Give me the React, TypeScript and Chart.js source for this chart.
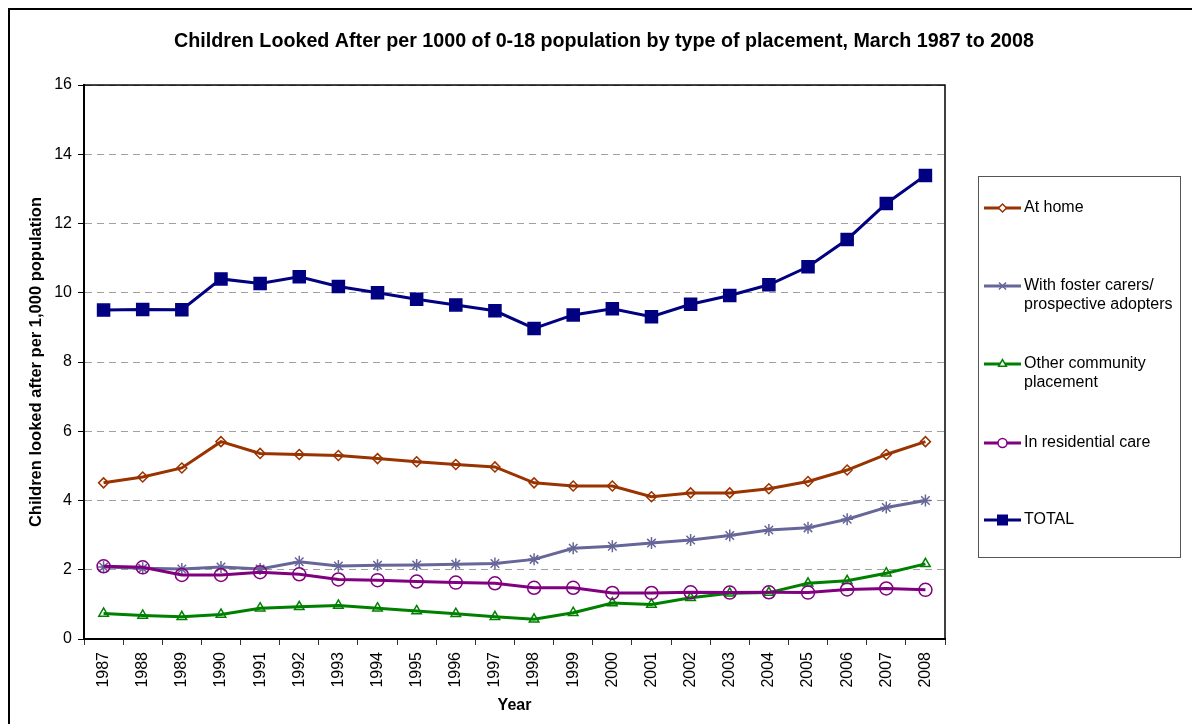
import React, { useEffect, useRef } from "react";
import { Chart, registerables } from "chart.js";

Chart.register(...registerables);

const years = ["1987","1988","1989","1990","1991","1992","1993","1994","1995","1996","1997","1998","1999","2000","2001","2002","2003","2004","2005","2006","2007","2008"];
const atHome = [4.51,4.68,4.94,5.70,5.36,5.33,5.30,5.21,5.12,5.04,4.97,4.51,4.42,4.42,4.11,4.22,4.22,4.34,4.55,4.88,5.33,5.70];
const foster = [2.08,2.04,2.02,2.08,2.02,2.23,2.11,2.13,2.14,2.16,2.18,2.30,2.62,2.68,2.77,2.86,2.99,3.15,3.21,3.46,3.80,4.00];
const otherCommunity = [0.74,0.68,0.64,0.71,0.89,0.93,0.97,0.89,0.81,0.73,0.64,0.57,0.76,1.04,1.00,1.19,1.32,1.34,1.61,1.68,1.90,2.17];
const residential = [2.10,2.07,1.85,1.85,1.93,1.87,1.72,1.70,1.66,1.63,1.61,1.48,1.48,1.33,1.33,1.35,1.34,1.35,1.34,1.43,1.46,1.42];
const total = [9.50,9.52,9.51,10.40,10.27,10.46,10.18,10.00,9.81,9.65,9.48,8.97,9.36,9.54,9.31,9.67,9.92,10.23,10.75,11.54,12.58,13.39];
const yTicks = [0, 2, 4, 6, 8, 10, 12, 14, 16];

const seriesNames = [["At home"], ["With foster carers/", "prospective adopters"], ["Other community", "placement"], ["In residential care"], ["TOTAL"]];
const seriesColors = ["#993300", "#666699", "#008000", "#800080", "#000080"];

const FONT = "'Liberation Sans', Arial, sans-serif";

function drawMarker(ctx: CanvasRenderingContext2D, style: string, x: number, y: number, r: number, color: string) {
  ctx.save();
  ctx.strokeStyle = color;
  ctx.fillStyle = color;
  ctx.lineWidth = 1.5;
  ctx.beginPath();
  if (style === "rectRot") {
    ctx.moveTo(x, y - r); ctx.lineTo(x + r, y); ctx.lineTo(x, y + r); ctx.lineTo(x - r, y); ctx.closePath();
    ctx.fillStyle = "#fff"; ctx.fill(); ctx.stroke();
  } else if (style === "star") {
    ctx.moveTo(x - r, y); ctx.lineTo(x + r, y);
    const d = r * 0.7071;
    ctx.moveTo(x - d, y - d); ctx.lineTo(x + d, y + d);
    ctx.moveTo(x - d, y + d); ctx.lineTo(x + d, y - d);
    ctx.stroke();
  } else if (style === "triangle") {
    ctx.moveTo(x, y - r); ctx.lineTo(x + r * 0.866, y + r * 0.5); ctx.lineTo(x - r * 0.866, y + r * 0.5); ctx.closePath();
    ctx.fillStyle = "#fff"; ctx.fill(); ctx.stroke();
  } else if (style === "circle") {
    ctx.arc(x, y, r, 0, Math.PI * 2);
    ctx.fillStyle = "#fff"; ctx.fill(); ctx.stroke();
  } else {
    ctx.rect(x - r, y - r, 2 * r, 2 * r);
    ctx.fill();
  }
  ctx.restore();
}

const legendStyles = ["rectRot", "star", "triangle", "circle", "rect"];
const legendSizes = [4, 5, 4.5, 4.5, 5.5];

const framePlugin = {
  id: "framePlugin",
  beforeDraw(chart: any) {
    const ctx = chart.ctx;
    ctx.save();
    ctx.fillStyle = "#fff";
    ctx.fillRect(0, 0, chart.width, chart.height);
    ctx.strokeStyle = "#000";
    ctx.lineWidth = 2;
    ctx.strokeRect(9, 9, 3000, 3000);
    ctx.restore();
  },
  beforeDatasetsDraw(chart: any) {
    const { ctx, chartArea } = chart;
    ctx.save();
    ctx.strokeStyle = "#000";
    ctx.lineWidth = 1.5;
    ctx.strokeRect(chartArea.left, chartArea.top, chartArea.right - chartArea.left, chartArea.bottom - chartArea.top);
    ctx.restore();
  },
  afterDraw(chart: any) {
    const ctx = chart.ctx;
    ctx.save();
    ctx.strokeStyle = "#555";
    ctx.lineWidth = 1;
    ctx.strokeRect(978.5, 176.5, 202, 381);
    const rowY = [208, 286, 364, 443, 520];
    ctx.font = `16px ${FONT}`;
    ctx.textBaseline = "middle";
    ctx.textAlign = "left";
    seriesNames.forEach((lines, i) => {
      const y = rowY[i];
      ctx.strokeStyle = seriesColors[i];
      ctx.lineWidth = 3;
      ctx.beginPath();
      ctx.moveTo(984, y);
      ctx.lineTo(1021, y);
      ctx.stroke();
      drawMarker(ctx, legendStyles[i], 1002.5, y, legendSizes[i], seriesColors[i]);
      ctx.fillStyle = "#000";
      lines.forEach((t, j) => ctx.fillText(t, 1024, y + j * 18.5));
    });
    ctx.restore();
  },
};

export default function App() {
  const canvasRef = useRef<HTMLCanvasElement | null>(null);

  useEffect(() => {
    if (!canvasRef.current) return;
    const common = { borderWidth: 3, pointBorderWidth: 1.5, tension: 0 };
    const chart = new Chart(canvasRef.current, {
      type: "line",
      data: {
        labels: years,
        datasets: [
          { ...common, label: "TOTAL", data: total, borderColor: seriesColors[4], backgroundColor: seriesColors[4], pointStyle: "rect", pointRadius: 8.5, pointBackgroundColor: seriesColors[4], pointBorderColor: seriesColors[4], order: 0 },
          { ...common, label: "In residential care", data: residential, borderColor: seriesColors[3], pointStyle: "circle", pointRadius: 6.5, pointBackgroundColor: "rgba(0,0,0,0)", pointBorderColor: seriesColors[3], order: 1 },
          { ...common, label: "With foster carers/prospective adopters", data: foster, borderColor: seriesColors[1], pointStyle: "star", pointRadius: 6, pointBackgroundColor: seriesColors[1], pointBorderColor: seriesColors[1], order: 2 },
          { ...common, label: "Other community placement", data: otherCommunity, borderColor: seriesColors[2], pointStyle: "triangle", pointRadius: 5.5, pointBackgroundColor: "rgba(0,0,0,0)", pointBorderColor: seriesColors[2], order: 3 },
          { ...common, label: "At home", data: atHome, borderColor: seriesColors[0], pointStyle: "rectRot", pointRadius: 5, pointBackgroundColor: "rgba(0,0,0,0)", pointBorderColor: seriesColors[0], order: 4 },
        ],
      },
      options: {
        animation: false,
        responsive: false,
        layout: { padding: { left: 16, right: 0, top: 0, bottom: 0 } },
        plugins: {
          legend: { display: false },
          tooltip: { enabled: false },
          title: {
            display: true,
            text: "Children Looked After per 1000 of 0-18 population by type of placement, March 1987 to 2008",
            color: "#000",
            font: { family: FONT, size: 19.7, weight: "bold" },
            padding: { top: 30.2, bottom: 31.2 },
          },
        },
        scales: {
          x: {
            type: "category",
            offset: true,
            grid: { display: true, offset: true, drawOnChartArea: false, drawTicks: true, tickLength: 6, tickColor: "#333", color: "#333" },
            border: { display: true, color: "#000", width: 2 },
            ticks: { color: "#000", font: { family: FONT, size: 16 }, minRotation: 90, maxRotation: 90, autoSkip: false, padding: 7 },
            title: { display: true, text: "Year", color: "#000", font: { family: FONT, size: 16, weight: "bold" }, padding: { top: 4, bottom: 8.4 } },
            afterFit: (s: any) => { s.height = 85; },
          },
          y: {
            type: "linear",
            position: "left",
            min: 0,
            max: 16,
            afterBuildTicks: (s: any) => { s.ticks = yTicks.map((v) => ({ value: v })); },
            grid: { color: "#a0a0a0", lineWidth: 1, drawTicks: true, tickLength: 6, tickColor: "#000" },
            border: { display: true, color: "#000", width: 2, dash: [7, 5] },
            ticks: { color: "#000", font: { family: FONT, size: 16 }, padding: 6 },
            title: { display: true, text: "Children looked after per 1,000 population", color: "#000", font: { family: FONT, size: 16.5, weight: "bold" }, padding: { top: 11, bottom: 0 } },
            afterFit: (s: any) => { s.width = 68; },
          },
          spacer: {
            type: "linear",
            position: "right",
            display: true,
            grid: { display: false, drawTicks: false },
            border: { display: false },
            ticks: { display: false },
            afterFit: (s: any) => { s.width = 247; },
          },
        },
      } as any,
      plugins: [framePlugin],
    });
    return () => chart.destroy();
  }, []);

  return (
    <div style={{ position: "fixed", left: 0, top: 0, width: 1192, height: 724, background: "#fff" }}>
      <canvas ref={canvasRef} width={1192} height={724} style={{ width: 1192, height: 724 }} />
    </div>
  );
}
